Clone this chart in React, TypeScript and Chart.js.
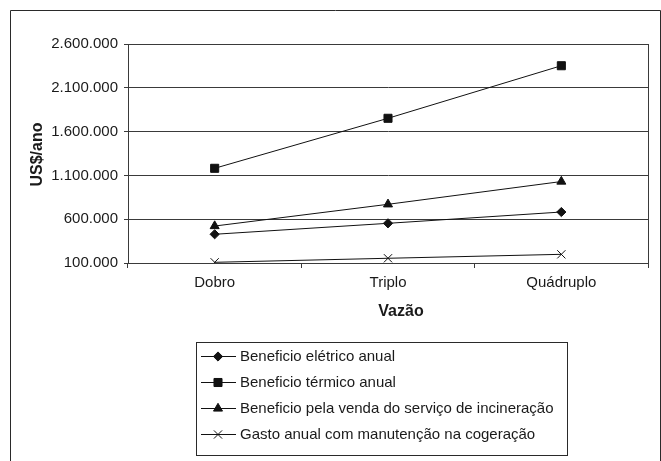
import { useEffect, useRef } from "react";
import { Chart, registerables } from "chart.js";
import { drawPoint } from "chart.js/helpers";

Chart.register(...registerables);

// Categories (flow multiplier) and annual values in US$/ano
const categories = ["Dobro", "Triplo", "Quádruplo"];
const beneficioEletrico = [428000, 553000, 682000];
const beneficioTermico = [1181000, 1752000, 2352000];
const beneficioIncineracao = [522000, 770000, 1030000];
const gastoManutencao = [108000, 154000, 199000];

const seriesNames = [
  "Beneficio elétrico anual",
  "Beneficio térmico anual",
  "Beneficio pela venda do serviço de incineração",
  "Gasto anual com manutenção na cogeração",
];
const yTicks = [100000, 600000, 1100000, 1600000, 2100000, 2600000];
const yTitle = "US$/ano";
const xTitle = "Vazão";

const FONT = "'Liberation Sans', Arial, sans-serif";
const INK = "#1a1a1a";
const GRID = "#3a3a3a";

type Marker = { style: any; radius: number };
const markers: Marker[] = [
  { style: "rectRot", radius: 4.6 },
  { style: "rect", radius: 5.7 },
  { style: "triangle", radius: 5.2 },
  { style: "crossRot", radius: 5.8 },
];

const formatThousands = (v: number) =>
  String(Math.round(v)).replace(/\B(?=(\d{3})+(?!\d))/g, ".");

const decorations = {
  id: "decorations",
  afterDraw(chart: any) {
    const { ctx, chartArea } = chart;
    const { left, top, right, bottom } = chartArea;
    ctx.save();

    // outer frame (bottom edge lies below the visible page)
    ctx.strokeStyle = "#2a2a2a";
    ctx.lineWidth = 1;
    ctx.beginPath();
    ctx.moveTo(10.5, 470);
    ctx.lineTo(10.5, 10.5);
    ctx.lineTo(660.5, 10.5);
    ctx.lineTo(660.5, 470);
    ctx.stroke();

    // plot frame
    ctx.strokeStyle = GRID;
    ctx.strokeRect(Math.round(left) + 0.5, Math.round(top) + 0.5, Math.round(right - left), Math.round(bottom - top));

    // axis titles
    ctx.fillStyle = INK;
    ctx.font = `bold 16px ${FONT}`;
    ctx.textAlign = "center";
    ctx.textBaseline = "middle";
    ctx.save();
    ctx.translate(38, (top + bottom) / 2 + 1);
    ctx.rotate(-Math.PI / 2);
    ctx.fillText(yTitle, 0, 0);
    ctx.restore();
    ctx.fillText(xTitle, 401, 312);

    // legend
    const boxX = 196.5, boxY = 342.5, boxW = 371, boxH = 113;
    ctx.strokeStyle = "#2a2a2a";
    ctx.strokeRect(boxX, boxY, boxW, boxH);
    ctx.font = `15px ${FONT}`;
    ctx.textAlign = "left";
    seriesNames.forEach((name, i) => {
      const y = 356 + i * 26;
      ctx.strokeStyle = "#111";
      ctx.lineWidth = 1;
      ctx.beginPath();
      ctx.moveTo(201, y + 0.5);
      ctx.lineTo(236, y + 0.5);
      ctx.stroke();
      ctx.fillStyle = "#111";
      drawPoint(ctx, { pointStyle: markers[i].style, radius: markers[i].radius, rotation: 0, borderWidth: 1 } as any, 218, y + 0.5);
      ctx.fillStyle = INK;
      ctx.fillText(name, 240, y + 1);
    });

    ctx.restore();
  },
};

export default function App() {
  const canvasRef = useRef<HTMLCanvasElement | null>(null);

  useEffect(() => {
    const canvas = canvasRef.current;
    if (!canvas) return;
    const values = [beneficioEletrico, beneficioTermico, beneficioIncineracao, gastoManutencao];
    const chart = new Chart(canvas, {
      type: "line",
      data: {
        labels: categories,
        datasets: values.map((data, i) => ({
          label: seriesNames[i],
          data,
          borderColor: "#111",
          borderWidth: 1,
          backgroundColor: "#111",
          pointBackgroundColor: "#111",
          pointBorderColor: "#111",
          pointBorderWidth: 1,
          pointStyle: markers[i].style,
          pointRadius: markers[i].radius,
          tension: 0,
          fill: false,
        })),
      },
      options: {
        responsive: false,
        animation: false,
        devicePixelRatio: 1,
        layout: { padding: { left: 20, top: 44, right: 13, bottom: 168 } },
        plugins: {
          legend: { display: false },
          tooltip: { enabled: false },
          title: { display: false },
        },
        scales: {
          x: {
            type: "category",
            offset: true,
            grid: {
              offset: true,
              drawOnChartArea: false,
              drawTicks: true,
              tickLength: 5,
              color: GRID,
            },
            border: { color: GRID, width: 1 },
            ticks: { font: { family: FONT, size: 15 }, color: INK, padding: 6, maxRotation: 0 },
            afterFit: (s: any) => {
              s.height = 30;
            },
          },
          y: {
            min: yTicks[0],
            max: yTicks[yTicks.length - 1],
            afterBuildTicks: (s: any) => {
              s.ticks = yTicks.map((value) => ({ value }));
            },
            grid: { color: GRID, tickLength: 4, drawTicks: true },
            border: { color: GRID, width: 1 },
            ticks: {
              font: { family: FONT, size: 15 },
              color: INK,
              padding: 6,
              callback: (v: any) => formatThousands(Number(v)),
            },
            afterFit: (s: any) => {
              s.width = 108;
            },
          },
        },
      },
      plugins: [decorations],
    });
    return () => chart.destroy();
  }, []);

  return (
    <div style={{ position: "fixed", left: 0, top: 0, width: 661, height: 461, background: "#fff" }}>
      <canvas ref={canvasRef} width={661} height={461} style={{ display: "block" }} />
    </div>
  );
}
